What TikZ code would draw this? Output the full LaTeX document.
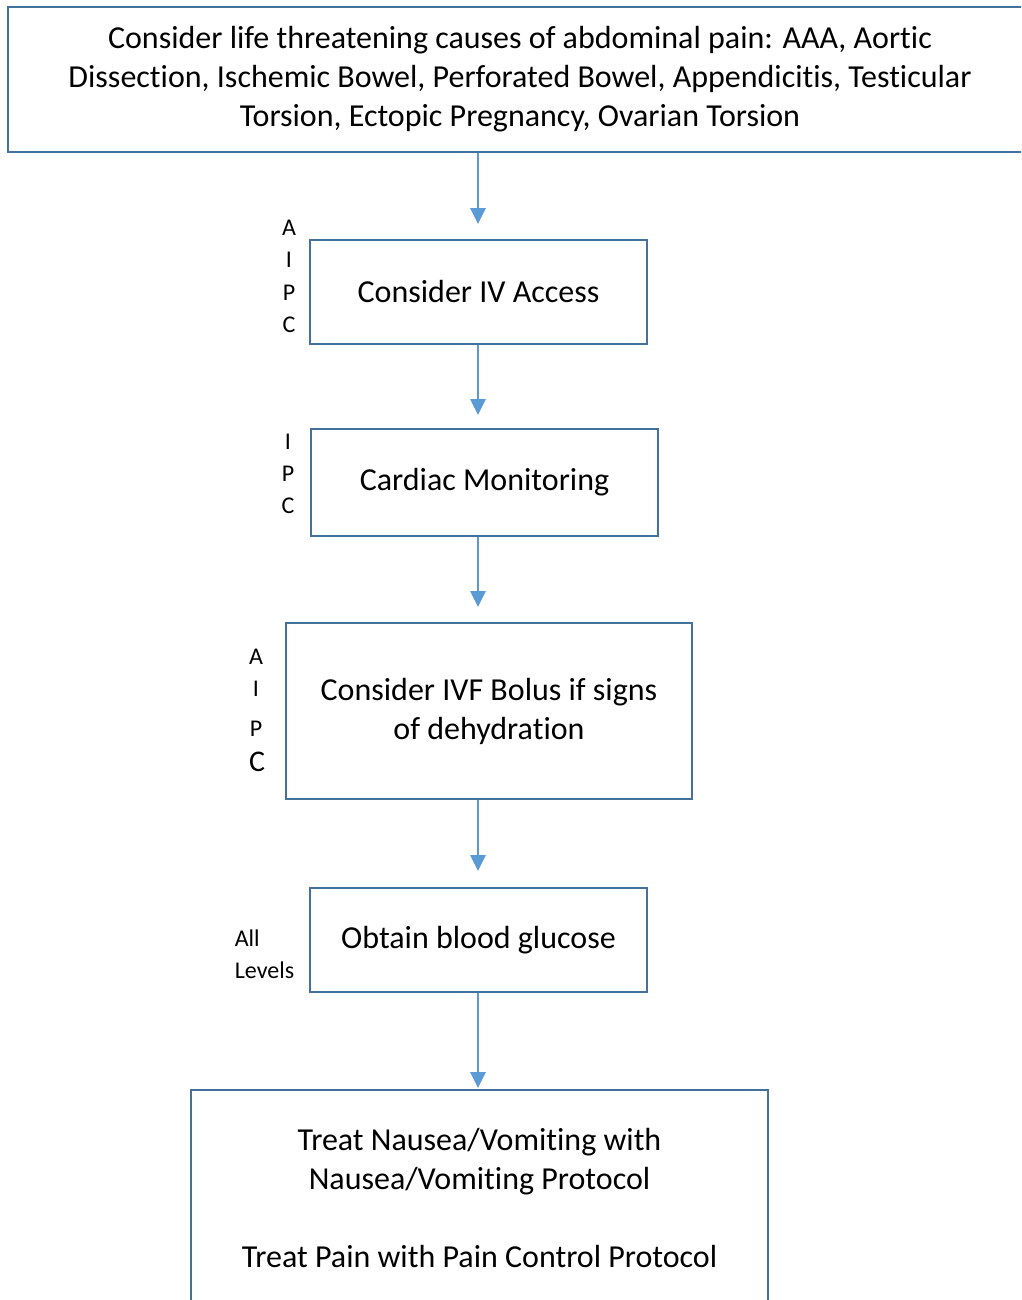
\documentclass[tikz,border=0pt]{standalone}
\usepackage{fontspec}
\setmainfont[Ligatures=NoCommon]{Carlito}
\usetikzlibrary{arrows.meta}
\definecolor{boxblue}{HTML}{41719C}
\definecolor{arrblue}{HTML}{5B9BD5}
\begin{document}
\begin{tikzpicture}[x=1pt,y=-1pt,
  box/.style={draw=boxblue, line width=2pt, rectangle, align=center, inner sep=0pt,
    font=\fontsize{32}{39}\selectfont},
  side/.style={align=center, inner sep=0pt, font=\fontsize{24}{32.3}\selectfont},
  arr/.style={draw=arrblue, line width=2.8pt, -{Triangle[width=15pt,length=16pt]}}]
\clip (0,0) rectangle (1021,1300);
\fill[white] (0,0) rectangle (1021,1300);
\node[box, minimum width=1024, minimum height=145] (top) at (520,79.5)
  {Consider life threatening causes of abdominal pain: AAA, Aortic\\Dissection, Ischemic Bowel, Perforated Bowel, Appendicitis, Testicular\\Torsion, Ectopic Pregnancy, Ovarian Torsion};
\node[box, minimum width=337, minimum height=104] (b2) at (478.5,292) {Consider IV Access};
\node[box, minimum width=347, minimum height=107] (b3) at (484.5,482.5) {Cardiac Monitoring};
\node[box, minimum width=406, minimum height=176] (b4) at (489,711) {Consider IVF Bolus if signs\\of dehydration};
\node[box, minimum width=337, minimum height=104] (b5) at (478.5,940) {Obtain blood glucose};
\node[box, minimum width=577, minimum height=216] (b6) at (479.5,1198)
  {Treat Nausea/Vomiting with\\Nausea/Vomiting Protocol\\[39pt]Treat Pain with Pain Control Protocol};
% side labels
\node[side] (l2) at (289,276.5) {A\\I\\P\\C};
\node[side] (l3) at (288,474) {I\\P\\C};
\node[side, font=\fontsize{24}{32}\selectfont] (l4a) at (256,693) {A\\I\\[8pt]P};
\node[inner sep=0pt, font=\fontsize{30}{36}\selectfont] (l4c) at (257,762) {C};
\node[side, align=left, font=\fontsize{24}{32}\selectfont] (l5) at (264.5,954) {All\\Levels};
% arrow end points
\coordinate (t2) at (478,224);
\coordinate (t3) at (478,415);
\coordinate (t4) at (478,607);
\coordinate (t5) at (478,871);
\coordinate (t6) at (478,1088);
\draw[arr] (top.south -| t2) -- (t2);
\draw[arr] (b2.south -| t3) -- (t3);
\draw[arr] (b3.south -| t4) -- (t4);
\draw[arr] (b4.south -| t5) -- (t5);
\draw[arr] (b5.south -| t6) -- (t6);
\end{tikzpicture}
\end{document}
